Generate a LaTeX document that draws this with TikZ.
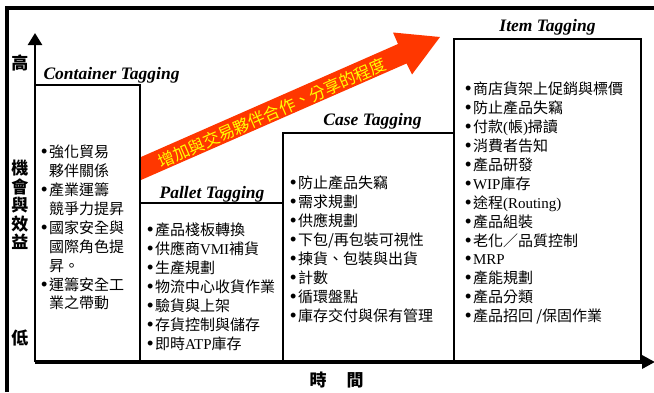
\documentclass[tikz,border=0pt]{standalone}
\usepackage{fontspec}
\setmainfont{Noto Sans CJK TC}
\newfontfamily\tms{Liberation Serif}
\newfontfamily\bulfont{Liberation Sans}
\usetikzlibrary{arrows.meta}
\definecolor{arrowred}{RGB}{255,55,0}
\definecolor{arrowyel}{RGB}{255,255,0}
\newcommand\lat[1]{{\tms #1}}
\newcommand\bu{{\bulfont\fontsize{18}{18}\selectfont •}\hspace{1.5pt}}
\newcommand\nb{\phantom{{\bulfont\fontsize{18}{18}\selectfont •}\hspace{1.5pt}}}
\begin{document}
\begin{tikzpicture}[x=1pt,y=-1pt,
  frameline/.style={line width=3.5pt},
  boxline/.style={line width=2pt},
  tagtitle/.style={font=\tms\fontsize{17.5}{20}\selectfont\bfseries\itshape, inner sep=0, anchor=base},
  listtext/.style={font=\fontsize{15}{18.9}\selectfont, align=left, anchor=north west, inner sep=0},
  axislabel/.style={font=\fontsize{17}{17}\selectfont\bfseries, inner sep=0}]
\useasboundingbox (0,0) rectangle (654,392);
\fill[white] (0,0) rectangle (654,392);
% outer frame
\draw[frameline] (7,392) -- (7,8) -- (654,8);
% big orange arrow
\fill[arrowred] (141,157) -- (398,44) -- (393,32.5) -- (440,37) -- (412,74.5) -- (406.5,63.5) -- (141,180) -- cycle;
\node[rotate=23.66, text=arrowyel, font=\fontsize{16.5}{16.5}\selectfont, inner sep=0] (arrowtext) at (272,113) {增加與交易夥伴合作、分享的程度};
% boxes
\draw[boxline] (35,85) -- (140,85) -- (140,362);
\draw[boxline] (140,203) -- (283,203);
\draw[boxline] (283,362) -- (283,133) -- (454,133);
\draw[boxline] (454,362) -- (454,39) -- (641,39) -- (641,362);
% axes
\coordinate (origin) at (35,362);
\coordinate (ytip) at (35,33);
\coordinate (xtip) at (655,362);
\draw[line width=2.5pt, -{Triangle[length=12pt,width=14pt]}] (origin) -- (ytip);
\draw[line width=4pt, -{Triangle[length=13pt,width=13pt]}] (origin) -- (xtip);
% titles
\node[tagtitle] (ct) at (111.5,79) {Container Tagging};
\node[tagtitle] (pt) at (212,198) {Pallet Tagging};
\node[tagtitle] (cst) at (372.5,125) {Case Tagging};
\node[tagtitle] (it) at (547.5,31) {Item Tagging};
% axis labels
\node[axislabel] (high) at (20,63) {高};
\node[axislabel] (y1) at (20,168) {機};
\node[axislabel] (y2) at (20,187) {會};
\node[axislabel] (y3) at (20,205) {與};
\node[axislabel] (y4) at (20,224) {效};
\node[axislabel] (y5) at (20,242) {益};
\node[axislabel] (low) at (20,338) {低};
\node[axislabel] (t1) at (318,380) {時};
\node[axislabel] (t2) at (355,380) {間};
% lists
\node[listtext] (clist) at (41,145) {\bu 強化貿易\\
\nb 夥伴關係\\
\bu 產業運籌\\
\nb 競爭力提昇\\
\bu 國家安全與\\
\nb 國際角色提\\
\nb 昇。\\
\bu 運籌安全工\\
\nb 業之帶動};
\node[listtext] (plist) at (147,223) {\bu 產品棧板轉換\\
\bu 供應商\lat{VMI}補貨\\
\bu 生產規劃\\
\bu 物流中心收貨作業\\
\bu 驗貨與上架\\
\bu 存貨控制與儲存\\
\bu 即時\lat{ATP}庫存};
\node[listtext] (cslist) at (290,176) {\bu 防止產品失竊\\
\bu 需求規劃\\
\bu 供應規劃\\
\bu 下包/再包裝可視性\\
\bu 揀貨、包裝與出貨\\
\bu 計數\\
\bu 循環盤點\\
\bu 庫存交付與保有管理};
\node[listtext] (ilist) at (465,82) {\bu 商店貨架上促銷與標價\\
\bu 防止產品失竊\\
\bu 付款\lat{(}帳\lat{)}掃讀\\
\bu 消費者告知\\
\bu 產品研發\\
\bu \lat{WIP}庫存\\
\bu 途程\lat{(Routing)}\\
\bu 產品組裝\\
\bu 老化／品質控制\\
\bu \lat{MRP}\\
\bu 產能規劃\\
\bu 產品分類\\
\bu 產品招回 /保固作業};
\end{tikzpicture}
\end{document}
